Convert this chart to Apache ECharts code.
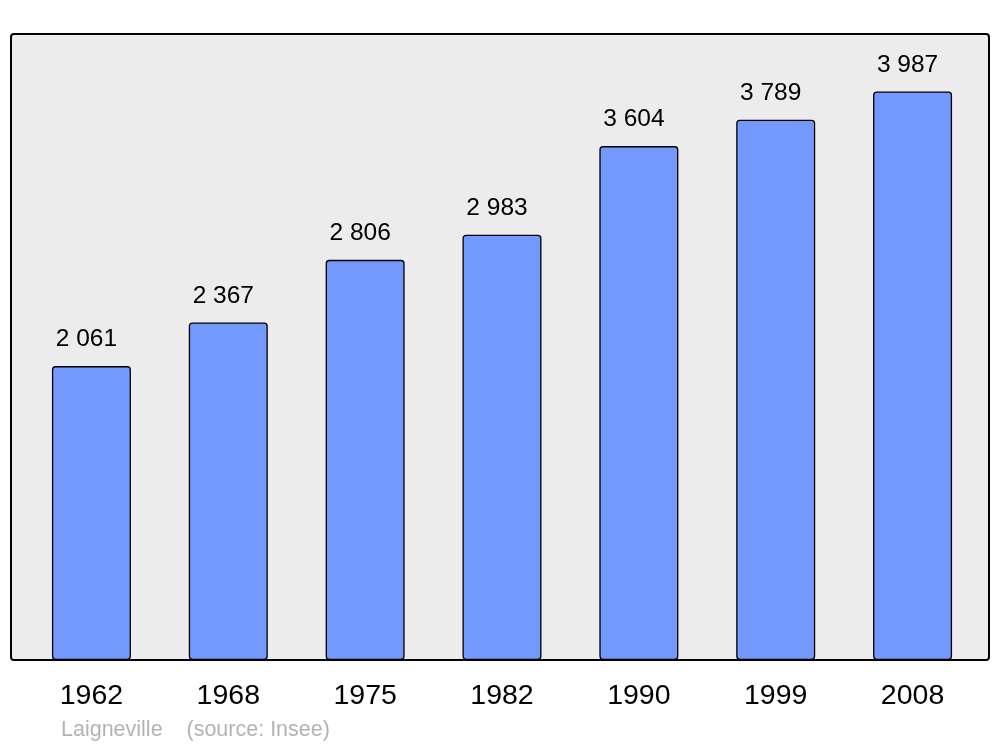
<!DOCTYPE html>
<html><head><meta charset="utf-8">
<script src="https://cdn.jsdelivr.net/npm/echarts@6/dist/echarts.min.js"></script>
<style>html,body{margin:0;padding:0;background:#fff}#c{width:1000px;height:747px}</style>
</head><body><div id="c"></div>
<script>
const years = ['1962','1968','1975','1982','1990','1999','2008'];
const population = [2061, 2367, 2806, 2983, 3604, 3789, 3987];
const sourceText = 'Laigneville    (source: Insee)';

const chart = echarts.init(document.getElementById('c'), null, {renderer:'canvas'});
const fmt = v => String(v).replace(/\B(?=(\d{3})+(?!\d))/g, ' ');
chart.setOption({
  animation:false,
  backgroundColor:'#ffffff',
  textStyle:{fontFamily:'Liberation Sans, Arial, sans-serif'},
  graphic:[
    {type:'rect', z:-10, shape:{x:11,y:34,width:978,height:626,r:3},
     style:{fill:'#ececec', stroke:'#000', lineWidth:2}},
    {type:'text', left:61, top:719, style:{text:sourceText, fill:'#b3b3b3', font:'21.5px "Liberation Sans", Arial, sans-serif'}}
  ],
  grid:{left:23, right:19, top:34, bottom:87, containLabel:false},
  xAxis:{type:'category', data:years, axisLine:{show:false}, axisTick:{show:false},
    axisLabel:{fontSize:28.5, color:'#000', margin:22, fontFamily:'Liberation Sans, Arial, sans-serif'}},
  yAxis:{type:'value', min:0, max:4390, show:false, splitLine:{show:false}},
  series:[{type:'bar', data:population, barWidth:79,
    itemStyle:{color:'#7399ff', borderColor:'#000', borderWidth:1.3, borderRadius:3},
    label:{show:true, position:'top', distance:14, offset:[-5,0], fontSize:24.5, color:'#000',
      fontFamily:'Liberation Sans, Arial, sans-serif', formatter:p=>fmt(p.value)}}]
});
</script></body></html>
